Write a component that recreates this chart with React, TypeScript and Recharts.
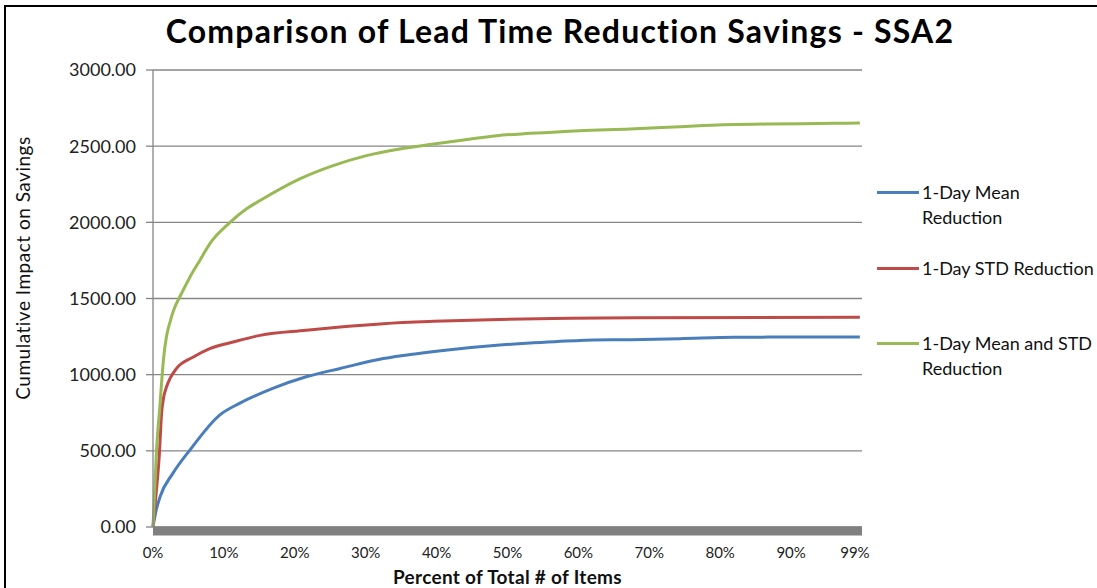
import { LineChart, Line, XAxis, YAxis, CartesianGrid } from 'recharts';

// percent of items (x) and cumulative savings (y)
const pctMean = [0, 0.4, 1, 2.8, 5.2, 9.4, 12.2, 16.9, 21.6, 26.4, 32.5, 37.2, 41.9, 48.5, 53.2, 60.2, 67.3, 74.3, 82, 90, 99.7];
const valMean = [0, 100, 199, 352, 505, 735, 812, 910, 986, 1041, 1106, 1138, 1164, 1193, 1208, 1225, 1230, 1236, 1245, 1247, 1248];

const pctStd = [0, 0.4, 0.9, 1.2, 1.5, 1.9, 2.4, 3.3, 5.7, 8, 11.3, 15.1, 21.6, 26.4, 32.5, 39.6, 47.5, 68.2, 99.7];
const valStd = [0, 200, 480, 740, 850, 919, 975, 1040, 1116, 1171, 1214, 1258, 1291, 1313, 1335, 1350, 1361, 1374, 1377];

const pctBoth = [0, 0.5, 1.0, 1.2, 1.5, 1.9, 2.4, 2.9, 4.0, 5.2, 6.6, 8.0, 10.9, 13.2, 15.1, 20.7, 25.4, 30.1, 34.8, 39.6, 43.8, 48.5, 53.2, 60.2, 67.3, 74.3, 80.4, 86.5, 96, 99.7];
const valBoth = [0, 505, 812, 940, 1110, 1250, 1345, 1422, 1531, 1640, 1750, 1859, 2001, 2089, 2143, 2285, 2372, 2438, 2482, 2514, 2541, 2569, 2584, 2602, 2613, 2628, 2641, 2645, 2650, 2652];

const xTicks = [0, 10, 20, 30, 40, 50, 60, 70, 80, 90, 99];
const yTicks = [0, 500, 1000, 1500, 2000, 2500, 3000];

const seriesNames = ['1-Day Mean Reduction', '1-Day STD Reduction', '1-Day Mean and STD Reduction'];
const colors = ['#4a7ebb', '#be4b48', '#98b954'];

const FONT = 'Lato, "Open Sans", sans-serif';

// une x e y en puntos
const zip = (xs: number[], ys: number[]) => xs.map((p, i) => ({ pct: p, v: ys[i] }));

export default function App() {
  const mean = zip(pctMean, valMean);
  const std = zip(pctStd, valStd);
  const both = zip(pctBoth, valBoth);

  // leyenda a mano, con saltos como en el original
  const legendRows = [
    { name: seriesNames[0], lines: ['1-Day Mean', 'Reduction'], top: 180 },
    { name: seriesNames[1], lines: ['1-Day STD Reduction'], top: 256 },
    { name: seriesNames[2], lines: ['1-Day Mean and STD', 'Reduction'], top: 331 },
  ];

  return (
    <div
      style={{
        position: 'absolute',
        left: 0,
        top: 0,
        width: 1097,
        height: 588,
        background: '#fff',
        fontFamily: FONT,
        overflow: 'hidden',
      }}
    >
      {/* marco */}
      <div
        style={{
          position: 'absolute',
          left: 4,
          top: 5,
          width: 1100,
          height: 600,
          borderTop: '2px solid #000',
          borderLeft: '2px solid #000',
        }}
      />
      <div
        style={{
          position: 'absolute',
          left: 0,
          width: 1120,
          top: 11,
          textAlign: 'center',
          fontSize: 32,
          letterSpacing: 1.2,
          fontWeight: 700,
          color: '#000',
        }}
      >
        Comparison of Lead Time Reduction Savings - SSA2
      </div>

      <LineChart
        width={1097}
        height={588}
        margin={{ top: 70, right: 235, bottom: 11, left: 0 }}
        style={{ position: 'absolute', left: 0, top: 0 }}
      >
        <CartesianGrid vertical={false} stroke="#868686" strokeWidth={1.3} />
        <XAxis
          type="number"
          dataKey="pct"
          domain={[0, 100]}
          ticks={xTicks}
          interval={0}
          height={50}
          tickFormatter={(v: number) => `${v}%`}
          axisLine={{ stroke: '#808080', strokeWidth: 9, style: { transform: 'translateY(4px)' } }}
          tickLine={false}
          tickSize={0}
          tickMargin={20}
          tick={{ fill: '#222', fontSize: 15, fontFamily: FONT }}
          allowDuplicatedCategory={false}
        />
        <YAxis
          width={153}
          domain={[0, 3000]}
          ticks={yTicks}
          interval={0}
          tickFormatter={(v: number) => v.toFixed(2)}
          axisLine={{ stroke: '#868686', strokeWidth: 1.3 }}
          tickLine={{ stroke: '#868686', strokeWidth: 1.3 }}
          tickSize={7}
          tickMargin={10}
          tick={{ fill: '#222', fontSize: 18, fontFamily: FONT }}
        />
        <Line data={mean} dataKey="v" name={seriesNames[0]} type="monotone" stroke={colors[0]} strokeWidth={3} dot={false} isAnimationActive={false} />
        <Line data={std} dataKey="v" name={seriesNames[1]} type="monotone" stroke={colors[1]} strokeWidth={3} dot={false} isAnimationActive={false} />
        <Line data={both} dataKey="v" name={seriesNames[2]} type="monotone" stroke={colors[2]} strokeWidth={3} dot={false} isAnimationActive={false} />
      </LineChart>

      {/* títulos de ejes */}
      <div
        style={{
          position: 'absolute',
          left: 22,
          top: 268,
          transform: 'translate(-50%, -50%) rotate(-90deg)',
          whiteSpace: 'nowrap',
          fontSize: 19,
          letterSpacing: 0.5,
          color: '#111',
        }}
      >
        Cumulative Impact on Savings
      </div>
      <div
        style={{
          position: 'absolute',
          left: 153,
          width: 709,
          top: 565,
          textAlign: 'center',
          fontSize: 19,
          letterSpacing: 0.3,
          fontWeight: 700,
          color: '#111',
        }}
      >
        Percent of Total # of Items
      </div>

      {legendRows.map((r, i) => (
        <div key={r.name} style={{ position: 'absolute', left: 877, top: r.top, display: 'flex' }}>
          <div style={{ width: 42, height: 3, background: colors[i], marginTop: 11, marginRight: 3 }} />
          <div style={{ fontSize: 18, lineHeight: '25px', color: '#111', whiteSpace: 'nowrap' }}>
            {r.lines.map(t => (
              <div key={t}>{t}</div>
            ))}
          </div>
        </div>
      ))}
    </div>
  );
}
